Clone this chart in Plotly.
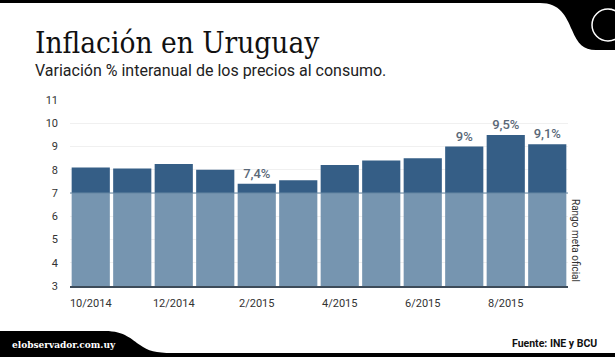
import plotly.graph_objects as go

months = ["10/2014", "11/2014", "12/2014", "1/2015", "2/2015", "3/2015",
          "4/2015", "5/2015", "6/2015", "7/2015", "8/2015", "9/2015"]
inflation = [8.1, 8.05, 8.25, 8.0, 7.4, 7.55, 8.2, 8.4, 8.5, 9.0, 9.5, 9.1]
labels = ["", "", "", "", "7,4%", "", "", "", "", "9%", "9,5%", "9,1%"]
target_low = 3
target_high = 7
tick_months = ["10/2014", "12/2014", "2/2015", "4/2015", "6/2015", "8/2015"]

W, H = 615, 357
ML, MR, MT, MB = 70, 47, 100, 71
PW, PH = W - ML - MR, H - MT - MB

def px(x):
    return (x - ML) / PW

def py(y):
    return (H - MB - y) / PH

DARK = "#355E86"
LIGHT = "#7695B0"

fig = go.Figure()
fig.add_trace(go.Bar(
    x=months, y=[target_high - target_low] * len(months), base=target_low,
    marker=dict(color=LIGHT, line=dict(width=0)), hoverinfo="skip"))
fig.add_trace(go.Bar(
    x=months, y=[v - target_high for v in inflation], base=target_high,
    marker=dict(color=DARK, line=dict(width=0)),
    text=labels, textposition="outside", cliponaxis=False,
    textfont=dict(family="Roboto", size=13, color="#5a6878", weight=500)))

fig.update_layout(
    width=W, height=H, barmode="overlay", bargap=0.08, showlegend=False,
    margin=dict(l=ML, r=MR, t=MT, b=MB, pad=0),
    plot_bgcolor="white", paper_bgcolor="white",
    font=dict(family="Roboto", color="#333333"),
    xaxis=dict(type="category", tickvals=tick_months, ticktext=tick_months,
               showgrid=False, ticks="", showline=True, linecolor="#3d4b59",
               linewidth=2, tickfont=dict(size=11, color="#333333"),
               ticklabelstandoff=6),
    yaxis=dict(range=[3, 11], tickvals=list(range(3, 12)), showgrid=True,
               gridcolor="#f0f0f0", zeroline=False, ticks="",
               tickfont=dict(size=11, color="#333333"), ticklabelstandoff=11),
)

shapes = []
shapes.append(dict(type="line", xref="paper", yref="y", x0=0, x1=1, y0=7, y1=7,
                   line=dict(color="#6585a2", width=1.2)))
top_path = (f"M {px(540)},{py(3)} C {px(560)},{py(3)} {px(566)},{py(16)} {px(572)},{py(30)} "
            f"C {px(578)},{py(44)} {px(583)},{py(50)} {px(596)},{py(50)} "
            f"L {px(616)},{py(50)} L {px(616)},{py(-1)} L {px(-1)},{py(-1)} L {px(-1)},{py(3)} Z")
shapes.append(dict(type="path", xref="paper", yref="paper", path=top_path,
                   fillcolor="black", line=dict(width=0), layer="above"))
shapes.append(dict(type="circle", xref="paper", yref="paper",
                   x0=px(592), x1=px(624), y0=py(41), y1=py(9),
                   line=dict(color="white", width=1.5), layer="above"))
bot_path = (f"M {px(-1)},{py(331)} L {px(105)},{py(331)} C {px(125)},{py(331)} {px(132)},{py(340)} {px(140)},{py(345)} "
            f"C {px(148)},{py(351)} {px(156)},{py(353)} {px(172)},{py(353)} "
            f"L {px(616)},{py(353)} L {px(616)},{py(358)} L {px(-1)},{py(358)} Z")
shapes.append(dict(type="path", xref="paper", yref="paper", path=bot_path,
                   fillcolor="black", line=dict(width=0), layer="above"))
fig.update_layout(shapes=shapes)

ann = [
    dict(text="Inflación en Uruguay", x=px(33), y=py(43), xanchor="left", yanchor="middle",
         font=dict(family="DejaVu Serif Condensed, DejaVu Serif", size=29.5, color="#111111")),
    dict(text="Variación % interanual de los precios al consumo.", x=px(33), y=py(70.5),
         xanchor="left", yanchor="middle", font=dict(family="Roboto", size=16, color="#222222")),
    dict(text="Rango meta oficial", x=px(576), y=py(240), xanchor="center", yanchor="middle",
         textangle=90, font=dict(family="Roboto", size=10, color="#333333")),
    dict(text="<b>elobservador.com.uy</b>", x=px(10), y=py(344), xanchor="left", yanchor="middle",
         font=dict(family="DejaVu Serif Condensed, DejaVu Serif", size=10, color="white")),
    dict(text="<b>Fuente: INE y BCU</b>", x=px(599), y=py(343), xanchor="right", yanchor="middle",
         font=dict(family="Roboto", size=10.5, color="#111111")),
]
for a in ann:
    a.update(xref="paper", yref="paper", showarrow=False)
fig.update_layout(annotations=ann)

fig.write_html("out.html", post_script="document.body.style.margin='0';",
               config={"displayModeBar": False})
